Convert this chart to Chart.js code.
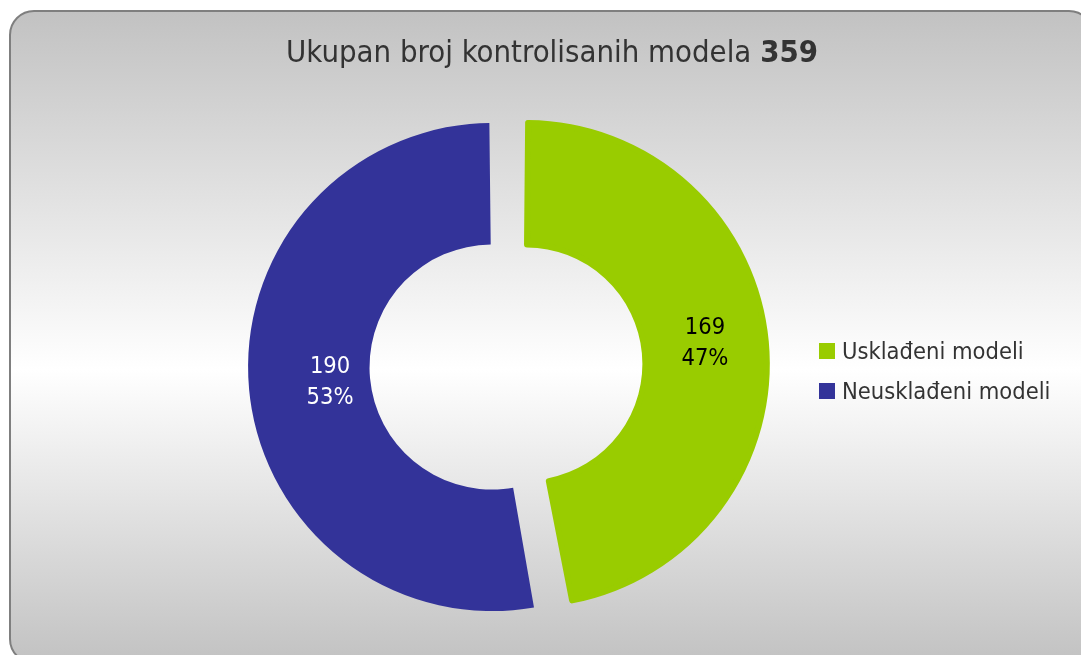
<!DOCTYPE html>
<html>
<head>
<meta charset="utf-8">
<script src="https://cdn.jsdelivr.net/npm/chart.js@4.4.1/dist/chart.umd.min.js"></script>
<style>
  html, body { margin:0; padding:0; background:#ffffff; width:1081px; height:655px; overflow:hidden; }
  #frame { position:absolute; left:9px; top:10px; width:1085px; height:654px; box-sizing:border-box;
    border:2px solid #7f7f7f; border-radius:25px;
    background:linear-gradient(to bottom, #c2c2c2 0%, #ffffff 55%, #c2c2c2 100%); }
  #chart { position:absolute; left:0; top:0; }
  .txt { font-family:"DejaVu Sans Condensed","DejaVu Sans",sans-serif; color:#333333; }
  #title { position:absolute; left:0; top:33px; width:1104px; text-align:center; font-size:30.8px; line-height:36px; white-space:nowrap; }
  #title b { font-weight:bold; }
  .lg { position:absolute; left:819px; height:28px; font-size:23.5px; line-height:28px; white-space:nowrap; }
  .lg .sw { position:absolute; left:0; top:6px; width:16px; height:16px; }
  .lg .lt { position:absolute; left:23px; top:0; }
</style>
</head>
<body>
<div id="frame"></div>
<canvas id="chart" width="1081" height="655"></canvas>
<div id="title" class="txt"></div>
<div id="legend"></div>
<script>
const categories = ["Usklađeni modeli", "Neusklađeni modeli"];
const values = [169, 190];
const colors = ["#99cc00", "#333399"];
const labelColors = ["#000000", "#ffffff"];
const titleText = "Ukupan broj kontrolisanih modela";

const total = values.reduce((a, b) => a + b, 0);
document.getElementById('title').innerHTML = titleText + ' <b>' + total + '</b>';

const legendEl = document.getElementById('legend');
categories.forEach((c, i) => {
  const d = document.createElement('div');
  d.className = 'lg txt';
  d.style.top = (337 + i * 40) + 'px';
  d.innerHTML = '<span class="sw" style="background:' + colors[i] + '"></span><span class="lt"></span>';
  d.querySelector('.lt').textContent = c;
  legendEl.appendChild(d);
});

const labelNudge = [[-3.5, -4], [20.5, -1]];

const sliceLabels = {
  id: 'sliceLabels',
  afterDatasetsDraw(chart) {
    const ctx = chart.ctx;
    const meta = chart.getDatasetMeta(0);
    ctx.save();
    ctx.font = '23.5px "DejaVu Sans Condensed", "DejaVu Sans", sans-serif';
    ctx.textAlign = 'center';
    ctx.textBaseline = 'middle';
    meta.data.forEach((arc, i) => {
      const p = arc.getCenterPoint();
      const x = p.x + labelNudge[i][0];
      const y = p.y + labelNudge[i][1];
      const pct = Math.round(values[i] / total * 100) + '%';
      ctx.fillStyle = labelColors[i];
      ctx.fillText(String(values[i]), x, y - 15.5);
      ctx.fillText(pct, x, y + 15.5);
    });
    ctx.restore();
  }
};

new Chart(document.getElementById('chart'), {
  type: 'doughnut',
  data: {
    labels: categories,
    datasets: [{
      data: values,
      backgroundColor: colors,
      borderColor: colors,
      borderWidth: [6, 0],
      borderJoinStyle: 'round',
      offset: 68,
      clip: false
    }]
  },
  options: {
    responsive: false,
    devicePixelRatio: 1,
    animation: false,
    radius: 227,
    cutout: '46.5%',
    layout: { padding: { left: 249, right: 312, top: 105.5, bottom: 29.5 } },
    plugins: {
      legend: { display: false },
      title: { display: false },
      tooltip: { enabled: false }
    },
    events: []
  },
  plugins: [sliceLabels]
});
</script>
</body>
</html>
